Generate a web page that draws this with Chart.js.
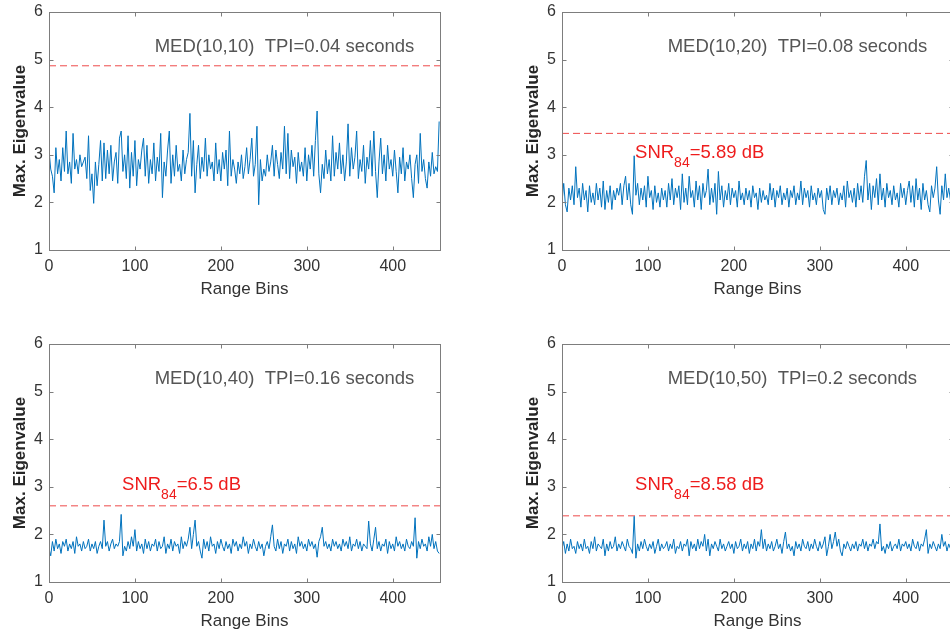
<!DOCTYPE html>
<html>
<head>
<meta charset="utf-8">
<script src="https://cdn.jsdelivr.net/npm/chart.js@4.4.1/dist/chart.umd.min.js"></script>
<style>
  html, body { margin: 0; padding: 0; background: #fff; overflow: hidden; width: 950px; height: 635px; }
  canvas { position: absolute; }
</style>
</head>
<body>
<canvas id="p1" width="470" height="318" style="left:0px;top:0px"></canvas>
<canvas id="p2" width="470" height="318" style="left:513px;top:0px"></canvas>
<canvas id="p3" width="470" height="318" style="left:0px;top:332px"></canvas>
<canvas id="p4" width="470" height="318" style="left:513px;top:332px"></canvas>
<script>
// range bins are sampled every 2 bins, 0..454
const bins = Array.from({ length: 228 }, (_, i) => i * 2);
const xTicks = [0, 100, 200, 300, 400];
const yTicks = [1, 2, 3, 4, 5, 6];

const med10x10 = [
  3.10, 2.70, 2.55, 2.20, 3.15, 2.60, 2.90, 2.45, 3.15, 2.65,
  3.50, 2.60, 2.85, 2.40, 3.45, 2.70, 2.90, 2.60, 3.00, 2.75,
  2.85, 2.95, 2.50, 3.40, 2.25, 2.60, 1.98, 2.85, 2.35, 2.80,
  3.30, 2.45, 3.25, 2.50, 3.10, 2.60, 3.20, 2.45, 2.85, 3.05,
  2.40, 3.35, 3.50, 2.65, 3.00, 2.50, 3.40, 2.30, 3.05, 2.55,
  3.30, 2.35, 2.90, 2.70, 3.10, 3.35, 2.55, 3.20, 2.40, 2.90,
  2.60, 3.25, 2.45, 2.95, 2.65, 3.45, 2.10, 2.85, 2.55, 3.10,
  3.50, 2.40, 3.00, 2.55, 3.20, 2.65, 2.80, 2.45, 3.10, 2.60,
  2.90, 3.05, 3.87, 2.55, 3.30, 2.20, 2.80, 3.20, 2.50, 2.95,
  2.65, 3.35, 2.55, 3.00, 2.70, 2.85, 2.45, 3.25, 2.60, 2.90,
  2.45, 3.05, 2.70, 3.10, 2.35, 3.50, 2.55, 2.90, 2.70, 2.40,
  2.85, 2.60, 3.00, 2.50, 2.75, 3.15, 2.60, 2.90, 3.35, 2.55,
  2.80, 3.60, 1.95, 2.90, 2.45, 2.70, 2.55, 3.00, 2.65, 2.85,
  3.20, 2.55, 3.10, 2.80, 2.50, 3.05, 2.70, 3.60, 2.60, 3.45,
  2.50, 3.10, 2.75, 2.95, 2.40, 3.05, 2.65, 2.85, 2.55, 3.15,
  2.45, 3.00, 2.70, 3.20, 2.55, 3.30, 3.92, 2.60, 2.20, 2.80,
  2.50, 3.10, 2.60, 2.90, 2.45, 3.40, 2.55, 3.05, 2.70, 3.25,
  2.60, 3.00, 2.45, 2.85, 3.65, 2.55, 3.15, 2.70, 2.95, 3.50,
  2.50, 2.90, 2.65, 3.20, 2.40, 2.95, 2.70, 3.30, 2.55, 3.50,
  2.65, 2.10, 2.85, 3.35, 2.60, 3.00, 2.45, 3.20, 2.70, 2.90,
  2.55, 3.10, 2.65, 2.20, 2.95, 2.60, 3.15, 2.45, 2.85, 2.70,
  3.00, 2.50, 2.10, 2.80, 3.00, 2.40, 3.45, 2.65, 2.90, 2.50,
  2.30, 2.85, 2.55, 3.05, 2.60, 2.75, 2.65, 3.70
];

const med10x20 = [
  2.00, 2.40, 1.95, 1.80, 2.30, 2.05, 2.35, 1.95, 2.75, 2.10,
  2.30, 1.90, 2.40, 2.05, 2.25, 1.80, 2.35, 2.00, 2.20, 1.95,
  2.40, 2.05, 2.30, 1.90, 2.45, 1.85, 2.25, 2.00, 2.35, 1.85,
  2.25, 2.05, 2.30, 2.15, 2.40, 1.95, 2.35, 2.55, 2.05, 2.40,
  1.95, 1.75, 2.98, 2.15, 2.40, 1.95, 2.30, 2.05, 2.35, 1.90,
  2.55, 2.10, 2.25, 1.85, 2.35, 2.00, 2.20, 1.90, 2.30, 2.05,
  2.25, 1.90, 2.40, 2.05, 2.50, 1.95, 2.30, 2.10, 2.35, 1.85,
  2.60, 2.00, 2.30, 1.95, 2.55, 2.10, 2.25, 1.90, 2.45, 2.05,
  2.35, 1.85, 2.40, 2.10, 2.25, 2.70, 1.95, 2.30, 2.00, 2.40,
  1.75, 2.65, 2.05, 2.35, 1.90, 2.25, 2.05, 2.40, 1.95, 2.30,
  2.10, 2.25, 1.90, 2.45, 2.05, 2.20, 1.95, 2.30, 2.05, 2.25,
  1.90, 2.35, 2.10, 2.20, 1.85, 2.30, 2.00, 2.25, 2.05, 2.15,
  1.95, 2.40, 2.05, 2.30, 1.90, 2.25, 2.10, 2.35, 1.95, 2.20,
  2.05, 2.30, 1.90, 2.25, 2.10, 2.35, 1.95, 2.20, 2.05, 2.45,
  1.95, 2.30, 2.10, 2.25, 1.90, 2.35, 2.05, 2.20, 1.95, 2.30,
  2.10, 2.25, 1.85, 1.75, 2.30, 2.05, 2.35, 1.95, 2.25, 2.10,
  2.30, 1.95, 2.20, 2.05, 2.35, 1.90, 2.45, 2.10, 2.25, 2.00,
  2.30, 1.90, 2.40, 2.05, 2.35, 2.00, 2.55, 2.88, 2.05, 2.40,
  1.85, 2.35, 2.10, 2.50, 1.95, 2.60, 2.05, 2.30, 1.90, 2.40,
  2.10, 2.25, 1.95, 2.35, 2.05, 2.20, 1.90, 2.40, 2.10, 2.30,
  1.95, 2.25, 2.45, 2.00, 2.35, 1.90, 2.50, 2.05, 2.30, 1.85,
  2.40, 2.05, 2.25, 1.95, 1.80, 2.35, 2.10, 2.30, 2.75, 2.05,
  1.75, 2.35, 2.05, 2.60, 2.10, 2.30, 2.05, 2.15
];

const med10x40 = [
  1.70, 1.55, 1.85, 1.65, 1.90, 1.70, 1.80, 1.60, 1.85, 1.75,
  1.90, 1.65, 1.80, 1.70, 1.85, 1.60, 1.95, 1.75, 1.80, 1.65,
  1.85, 1.70, 1.75, 1.90, 1.65, 1.80, 1.70, 1.85, 1.60, 1.75,
  1.85, 1.70, 2.30, 1.75, 1.85, 1.65, 1.80, 1.90, 1.70, 1.80,
  1.75, 1.85, 2.42, 1.55, 1.75, 1.65, 1.85, 1.70, 1.95, 1.75,
  2.10, 1.65, 1.85, 1.70, 1.80, 1.60, 1.90, 1.70, 1.85, 1.65,
  1.80, 1.75, 1.90, 1.65, 1.85, 1.70, 1.75, 1.95, 1.60, 1.80,
  1.70, 1.90, 1.65, 1.85, 1.75, 1.80, 1.60, 1.95, 1.70, 1.85,
  1.75, 1.90, 2.15, 1.70, 2.00, 2.30, 1.75, 1.85, 1.65, 1.50,
  1.90, 1.70, 1.85, 1.65, 1.95, 1.75, 1.80, 1.60, 1.85, 1.70,
  1.90, 1.75, 1.65, 1.85, 1.70, 1.80, 1.60, 1.90, 1.75, 1.85,
  1.65, 1.80, 1.70, 1.95, 1.75, 1.85, 1.60, 1.80, 1.70, 1.90,
  1.75, 1.65, 1.85, 1.70, 1.80, 1.55, 1.75, 1.85, 1.70, 1.95,
  2.20, 1.75, 1.65, 1.90, 1.70, 1.85, 1.60, 1.80, 1.75, 1.90,
  1.65, 1.85, 1.70, 1.80, 1.60, 1.95, 1.75, 1.85, 1.70, 1.80,
  1.65, 1.90, 1.75, 1.85, 1.70, 1.80, 1.52, 1.85, 1.95, 2.15,
  1.75, 1.85, 1.70, 1.80, 1.65, 1.90, 1.75, 1.85, 1.70, 1.80,
  1.65, 1.90, 1.75, 1.85, 1.70, 1.95, 1.65, 1.80, 1.75, 1.90,
  1.70, 1.85, 1.65, 1.80, 1.75, 1.70, 2.28, 1.80, 1.65, 1.90,
  2.15, 1.70, 1.85, 1.65, 1.80, 1.75, 1.90, 1.60, 1.85, 1.70,
  1.80, 1.65, 1.95, 1.75, 1.85, 1.70, 1.80, 1.65, 1.90, 1.75,
  1.70, 1.85, 1.75, 2.35, 1.50, 1.85, 1.70, 1.90, 1.75, 1.80,
  1.65, 1.95, 1.75, 2.00, 1.70, 1.85, 1.65, 1.60
];

const med10x50 = [
  1.70, 1.85, 1.60, 1.80, 1.65, 1.90, 1.70, 1.75, 1.60, 1.85,
  1.70, 1.80, 1.65, 1.90, 1.70, 1.75, 1.60, 1.85, 1.70, 1.95,
  1.65, 1.80, 1.75, 1.70, 1.90, 1.55, 1.80, 1.65, 1.85, 1.70,
  1.75, 1.95, 1.65, 1.80, 1.70, 1.85, 1.75, 1.65, 1.90, 1.75,
  1.70, 1.60, 2.38, 1.50, 1.80, 1.65, 1.85, 1.70, 1.90, 1.75,
  1.65, 1.80, 1.70, 1.85, 1.60, 1.75, 1.90, 1.65, 1.80, 1.70,
  1.75, 1.85, 1.65, 1.80, 1.70, 1.90, 1.60, 1.75, 1.70, 1.85,
  1.65, 1.80, 1.75, 1.90, 1.55, 1.85, 1.70, 1.80, 1.65, 1.90,
  1.70, 1.85, 1.75, 2.00, 1.65, 1.90, 1.55, 1.80, 1.70, 1.85,
  1.75, 1.65, 1.90, 1.70, 1.80, 1.65, 1.75, 1.85, 1.70, 1.80,
  1.60, 1.85, 1.70, 1.75, 1.90, 1.65, 1.80, 1.70, 1.85, 1.60,
  1.80, 1.70, 1.90, 1.65, 1.85, 1.75, 2.10, 1.70, 1.90, 1.65,
  1.80, 1.70, 1.85, 1.65, 1.75, 1.90, 1.70, 1.80, 1.60, 1.85,
  2.05, 1.70, 1.80, 1.65, 1.75, 1.55, 1.85, 1.70, 1.80, 1.65,
  1.90, 1.75, 1.70, 1.85, 1.65, 1.80, 1.70, 1.90, 1.75, 1.65,
  1.85, 1.70, 1.80, 1.95, 1.55, 1.75, 2.00, 1.70, 1.85, 2.05,
  1.75, 1.90, 1.65, 1.55, 1.80, 1.70, 1.85, 1.75, 1.65, 1.80,
  1.70, 1.85, 1.65, 1.80, 1.75, 1.90, 1.70, 1.85, 1.65, 1.80,
  1.75, 1.90, 1.70, 1.85, 1.80, 2.22, 1.65, 1.75, 1.60, 1.80,
  1.70, 1.85, 1.65, 1.75, 1.80, 1.70, 1.90, 1.65, 1.80, 1.75,
  1.85, 1.70, 1.80, 1.65, 1.90, 1.75, 1.70, 1.85, 1.65, 1.80,
  1.75, 1.90, 2.10, 1.60, 1.80, 1.70, 1.85, 1.75, 1.65, 1.80,
  1.70, 2.00, 1.75, 1.85, 1.65, 1.80, 1.70, 1.75
];

const series = [med10x10, med10x20, med10x40, med10x50];
const thresholds = [4.87, 3.45, 2.60, 2.39];
const captions = [
  'MED(10,10)  TPI=0.04 seconds',
  'MED(10,20)  TPI=0.08 seconds',
  'MED(10,40)  TPI=0.16 seconds',
  'MED(10,50)  TPI=0.2 seconds'
];
const snrValues = [null, '5.89', '6.5', '8.58'];

const FONT = '"Liberation Sans", Arial, Helvetica, sans-serif';

// matlab-style box with inward ticks, plus the text annotations
const framePlugin = {
  id: 'frame',
  afterDraw(chart, args, opts) {
    const { ctx, chartArea: a, scales: { x, y } } = chart;
    const L = Math.round(a.left) + 0.5, R = Math.round(a.right) + 0.5;
    const T = Math.round(a.top) + 0.5, B = Math.round(a.bottom) + 0.5;
    ctx.save();
    ctx.strokeStyle = '#7d7d7d';
    ctx.lineWidth = 1;
    ctx.strokeRect(L, T, R - L, B - T);
    ctx.beginPath();
    xTicks.forEach(v => {
      const px = Math.round(x.getPixelForValue(v)) + 0.5;
      ctx.moveTo(px, B); ctx.lineTo(px, B - 4);
      ctx.moveTo(px, T); ctx.lineTo(px, T + 4);
    });
    yTicks.forEach(v => {
      const py = Math.round(y.getPixelForValue(v)) + 0.5;
      ctx.moveTo(L, py); ctx.lineTo(L + 4, py);
      ctx.moveTo(R, py); ctx.lineTo(R - 4, py);
    });
    ctx.stroke();

    ctx.textBaseline = 'alphabetic';
    ctx.textAlign = 'left';
    ctx.font = '18.5px ' + FONT;
    ctx.fillStyle = '#555555';
    ctx.fillText(opts.caption, x.getPixelForValue(123), y.getPixelForValue(5.16));

    if (opts.snr) {
      let px = x.getPixelForValue(85);
      const py = y.getPixelForValue(2.94);
      ctx.fillStyle = '#ee1c1c';
      ctx.font = '18.5px ' + FONT;
      ctx.fillText('SNR', px, py);
      px += ctx.measureText('SNR').width;
      ctx.font = '14px ' + FONT;
      ctx.fillText('84', px, py + 9);
      px += ctx.measureText('84').width;
      ctx.font = '18.5px ' + FONT;
      ctx.fillText('=' + opts.snr + ' dB', px, py);
    }
    ctx.restore();
  }
};

function makeChart(id, k) {
  const ctx = document.getElementById(id).getContext('2d');
  return new Chart(ctx, {
    type: 'line',
    data: {
      datasets: [
        {
          data: bins.map((b, i) => ({ x: b, y: series[k][i] })),
          borderColor: '#0072bd',
          borderWidth: 1,
          pointRadius: 0,
          tension: 0
        },
        {
          data: [{ x: 0, y: thresholds[k] }, { x: 455, y: thresholds[k] }],
          borderColor: '#ee4a4a',
          borderWidth: 1,
          borderDash: [7, 4],
          pointRadius: 0
        }
      ]
    },
    options: {
      responsive: false,
      animation: false,
      devicePixelRatio: 1,
      layout: { padding: { left: 0, top: 12, right: 30, bottom: 0 } },
      plugins: {
        legend: { display: false },
        tooltip: { enabled: false },
        frame: { caption: captions[k], snr: snrValues[k] }
      },
      scales: {
        x: {
          type: 'linear',
          min: 0,
          max: 455,
          afterFit: s => { s.height = 68; s.paddingLeft = 0; s.paddingRight = 0; },
          grid: { display: false, drawTicks: false },
          border: { display: false },
          ticks: {
            stepSize: 100,
            includeBounds: false,
            maxRotation: 0,
            padding: 7,
            color: '#333333',
            font: { family: FONT, size: 16 }
          },
          title: {
            display: true,
            text: 'Range Bins',
            color: '#333333',
            padding: { top: 0, bottom: 18 },
            font: { family: FONT, size: 17 }
          }
        },
        y: {
          min: 1,
          max: 6,
          afterFit: s => { s.width = 49; s.paddingTop = 0; s.paddingBottom = 0; },
          grid: { display: false, drawTicks: false },
          border: { display: false },
          ticks: {
            stepSize: 1,
            padding: 6,
            color: '#333333',
            font: { family: FONT, size: 16 }
          },
          title: {
            display: true,
            text: 'Max. Eigenvalue',
            color: '#262626',
            padding: { top: 10, bottom: 0 },
            font: { family: FONT, size: 17, weight: 'bold' }
          }
        }
      }
    },
    plugins: [framePlugin]
  });
}

makeChart('p1', 0);
makeChart('p2', 1);
makeChart('p3', 2);
makeChart('p4', 3);
</script>
</body>
</html>
